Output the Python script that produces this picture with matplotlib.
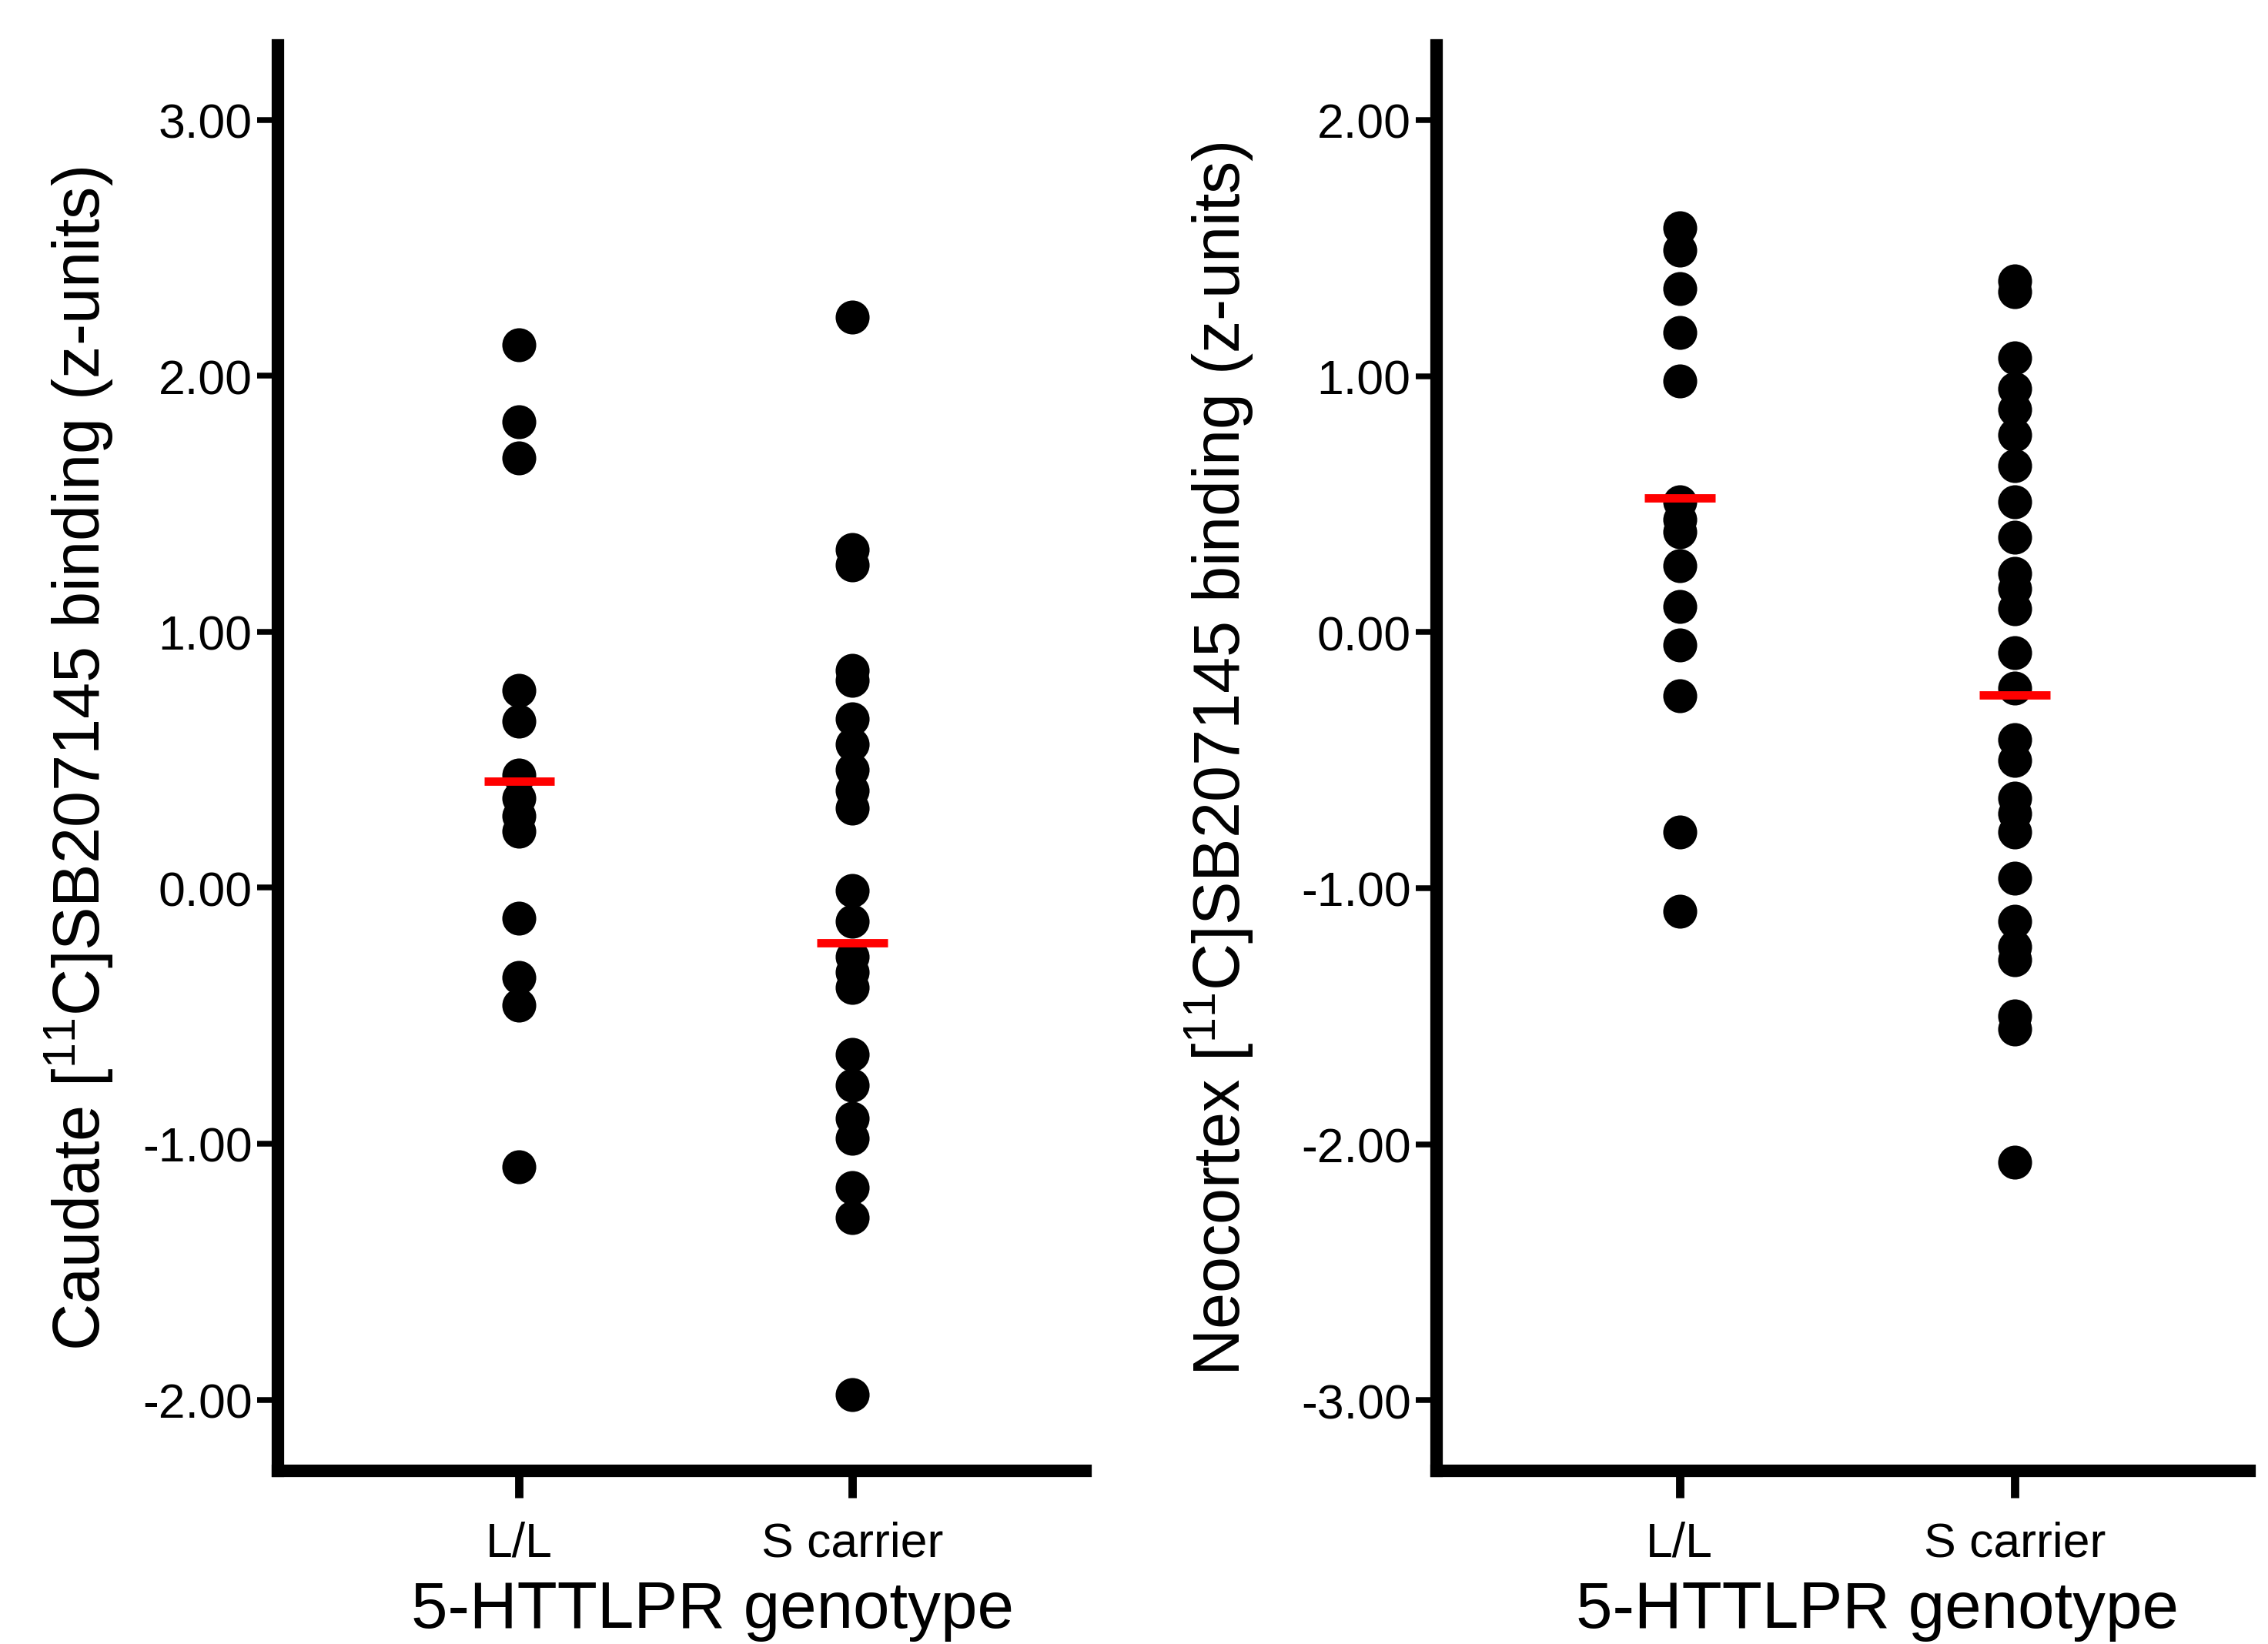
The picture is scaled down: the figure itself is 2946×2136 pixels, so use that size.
import numpy as np
import matplotlib
matplotlib.use('Agg')
import matplotlib.pyplot as plt

plt.rcParams['font.family'] = ['Liberation Sans', 'DejaVu Sans']
plt.rcParams['mathtext.fontset'] = 'custom'
plt.rcParams['mathtext.rm'] = 'Liberation Sans'
plt.rcParams['axes.unicode_minus'] = False

# data (z-units)
groups = ['L/L', 'S carrier']

caudate_ll = [2.12, 1.82, 1.68, 0.77, 0.65, 0.44, 0.35, 0.28, 0.22, -0.12, -0.35, -0.46, -1.09]
caudate_s = [2.23, 1.32, 1.26, 0.85, 0.81, 0.66, 0.56, 0.46, 0.38, 0.31, -0.01, -0.13,
             -0.27, -0.33, -0.39, -0.65, -0.77, -0.90, -0.98, -1.17, -1.29, -1.98]
caudate_means = [0.415, -0.215]

neo_ll = [1.58, 1.49, 1.34, 1.17, 0.98, 0.51, 0.44, 0.39, 0.26, 0.10, -0.05, -0.25, -0.78, -1.09]
neo_s = [1.37, 1.33, 1.07, 0.95, 0.87, 0.77, 0.65, 0.51, 0.37, 0.23, 0.17, 0.09, -0.08, -0.22,
         -0.42, -0.50, -0.65, -0.71, -0.78, -0.96, -1.13, -1.23, -1.28, -1.50, -1.55, -2.07]
neo_means = [0.523, -0.245]

caudate_ticks = [-2, -1, 0, 1, 2, 3]
neo_ticks = [-3, -2, -1, 0, 1, 2]

fig = plt.figure(figsize=(9.82, 7.123), dpi=300)
ax1 = fig.add_axes([0.1225, 0.1053, 0.356, 0.8665])
ax2 = fig.add_axes([0.6334, 0.1053, 0.3585, 0.8665])

panels = [
    (ax1, caudate_ll, caudate_s, caudate_means, caudate_ticks, (-2.278, 3.29),
     'Caudate [$\\mathregular{^{11}}$C]SB207145 binding (z-units)', -0.246, 0.538),
    (ax2, neo_ll, neo_s, neo_means, neo_ticks, (-3.276, 2.29),
     'Neocortex [$\\mathregular{^{11}}$C]SB207145 binding (z-units)', -0.267, 0.542),
]

for ax, ll, s, means, ticks, ylim, ylab, ylx, xlx in panels:
    ax.scatter(np.ones(len(ll)), ll, s=112, color='black', linewidths=0, zorder=2)
    ax.scatter(np.full(len(s), 2), s, s=112, color='black', linewidths=0, zorder=2)
    for i, m in enumerate(means):
        ax.plot([i + 1 - 0.106, i + 1 + 0.106], [m, m], color='#ff0000', lw=2.6,
                solid_capstyle='butt', zorder=3)

    ax.set_xlim(0.275, 2.70)
    ax.set_ylim(*ylim)
    ax.set_xticks([1, 2])
    ax.set_xticklabels(groups, fontsize=15)
    ax.set_yticks(ticks)
    ax.set_yticklabels(['%.2f' % t for t in ticks], fontsize=15)

    for side in ['top', 'right']:
        ax.spines[side].set_visible(False)
    for side in ['left', 'bottom']:
        ax.spines[side].set_linewidth(3.9)
        ax.spines[side].set_color('black')

    ax.tick_params(axis='x', length=8.4, width=2.6, pad=7, colors='black')
    ax.tick_params(axis='y', length=6.5, width=1.8, pad=1.5, colors='black')

    ax.set_ylabel(ylab, fontsize=20.3)
    ax.yaxis.set_label_coords(ylx, 0.5)
    ax.yaxis.label.set_verticalalignment('center')
    ax.set_xlabel('5-HTTLPR genotype', fontsize=20.5)
    ax.xaxis.set_label_coords(xlx, -0.098)
    ax.xaxis.label.set_verticalalignment('center')

fig.savefig('out.png', dpi=300)
